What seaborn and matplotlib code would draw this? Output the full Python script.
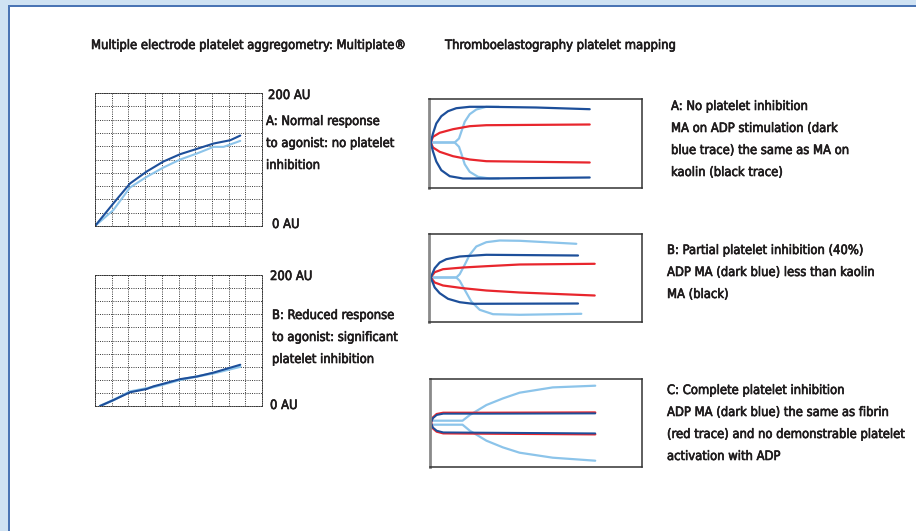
import numpy as np
import pandas as pd
import matplotlib
matplotlib.use("Agg")
import matplotlib.pyplot as plt
import matplotlib.patheffects as pe
import seaborn as sns
from matplotlib.patches import Rectangle

# --- Multiplate aggregometry traces (x in grid cells 0-10, y in AU) ---
agg_a_x = [0, 1.1, 2.1, 3.1, 4.1, 5.1, 6.1, 7.1, 8.1, 8.7]
agg_a_dark = [0, 34, 64, 82, 97, 108, 116, 124, 129, 136]
agg_a_light_x = [0, 1.1, 2.1, 3.1, 4.1, 5.1, 6.1, 7.1, 7.7, 8.7]
agg_a_light = [0, 24, 58, 74, 88, 100, 109, 119, 119, 128]

agg_b_x = [0.3, 1.1, 2.1, 3.1, 3.5, 4.1, 5.1, 6.1, 7.1, 7.9, 8.7]
agg_b_dark = [0, 9, 21, 26, 30, 34, 41, 45, 51, 57, 63]
agg_b_light = [0, 9, 22, 27, 29, 33, 40, 45, 50, 55, 60]

# --- TEG platelet mapping traces (x = time, y = amplitude) ---
# A: no inhibition
tegA_dark_up_x = [1.7, 4, 7.3, 12.3, 19, 27.3, 40.7, 57.3, 107, 160.7]
tegA_dark_up = [0, 9, 19, 26.3, 31.3, 34.3, 35.7, 35.7, 35, 33.3]
tegA_dark_lo_x = [1.7, 4, 7.3, 12.3, 20.7, 34, 57.3, 160.7]
tegA_dark_lo = [0, -9, -19, -27.7, -33.7, -36, -36, -35]
tegA_red_up_x = [1.7, 4, 10.7, 24, 40.7, 57.3, 160.7]
tegA_red_up = [0, 5.7, 9.7, 13.3, 16.3, 17.3, 18]
tegA_red_lo = [0, -5, -9.3, -13.7, -17, -18.7, -20]
tegA_light_up_x = [1.7, 25.7, 30, 32.3, 35.7, 40.7, 47.3, 57.3, 70]
tegA_light_up = [0, 0, 4, 10.7, 20.7, 28.3, 33, 35.7, 35.7]
tegA_light_lo_x = [1.7, 25.7, 30, 32.3, 35.7, 40.7, 49, 60.7, 70]
tegA_light_lo = [0, 0, -4.3, -11, -21.7, -29.3, -34.3, -36, -36]

# B: partial inhibition
tegB_dark_up_x = [1.7, 5.7, 10.7, 17.3, 30.7, 57.3, 149]
tegB_dark_up = [0, 9.3, 15, 18.3, 21, 22.7, 22]
tegB_dark_lo_x = [1.7, 5.7, 10.7, 19, 30.7, 44, 149]
tegB_dark_lo = [0, -10, -15.7, -21.3, -24.7, -26.3, -26]
tegB_red_x = [1.7, 5.7, 14, 34, 57.3, 90.7, 165.7]
tegB_red_up = [0, 5.3, 8.3, 10, 11.3, 13, 13.7]
tegB_red_lo = [0, -5, -8, -10.7, -13, -15, -18]
tegB_light_up_x = [1.7, 27.3, 30.7, 35.7, 40.7, 47.3, 57.3, 70.7, 90.7, 147.3]
tegB_light_up = [0, 0, 3.3, 12.7, 22.7, 31, 35.3, 37, 36.7, 33.7]
tegB_light_lo_x = [1.7, 27.3, 30.7, 35.7, 42.3, 50.7, 64, 90.7, 152.3]
tegB_light_lo = [0, 0, -3.3, -12.3, -24, -32.3, -36.7, -37.3, -36.3]

# C: complete inhibition
tegC_dark_x = [1, 2.7, 6.7, 13.3, 56.7, 166]
tegC_dark_up = [0, 4.3, 7.7, 9, 9, 9.3]
tegC_dark_lo = [0, -4.7, -8, -9.7, -10, -10.7]
tegC_red_up = [0, 5, 8.6, 9.9, 9.9, 10.2]
tegC_red_lo = [0, -5.4, -8.9, -10.6, -10.9, -11.6]
tegC_light_x = [3.3, 32.7, 40, 56.7, 73.3, 90, 123.3, 166]
tegC_light_up = [2, 2, 7.7, 17.7, 24.3, 30, 35.3, 37]
tegC_light_lo = [-2, -2, -8, -18, -24.7, -30, -35, -38]

DARK = "#1d4f9a"
LIGHT = "#8cc4ea"
RED = "#e8262d"
TXT = "#1e1b1c"

W, H = 916, 531
sns.set_theme(style="white")
plt.rcParams["font.family"] = ["DejaVu Sans"]

fig = plt.figure(figsize=(W / 100, H / 100), dpi=100)
fig.patch.set_facecolor("#cfe2f3")
fig.patches.append(Rectangle((9 / W, 0), 1, 1 - 6 / H, transform=fig.transFigure,
                             facecolor="white", edgecolor="none", zorder=-3))
fig.patches.append(Rectangle((8 / W, 0), 2 / W, 1 - 5 / H, transform=fig.transFigure,
                             facecolor="#4a74b4", edgecolor="none", zorder=-2))
fig.patches.append(Rectangle((8 / W, 1 - 7 / H), 1, 2 / H, transform=fig.transFigure,
                             facecolor="#4a74b4", edgecolor="none", zorder=-2))

heavy = [pe.withStroke(linewidth=0.45, foreground=TXT)]


def box(x, y, w, h):
    return [x / W, 1 - (y + h) / H, w / W, h / H]


def ftext(x, y, s, **kw):
    fig.text(x / W, 1 - y / H, s, color=TXT, fontsize=9.3, va="top", ha="left",
             linespacing=1.9, fontstretch="condensed", path_effects=heavy, **kw)


def line(ax, x, y, color, lw=1.6):
    sns.lineplot(x=x, y=y, ax=ax, color=color, lw=lw, sort=False,
                 estimator=None, legend=False)


# ---- Multiplate grids ----
def agg_axes(rect):
    ax = fig.add_axes(rect)
    ax.set_xlim(0, 10)
    ax.set_ylim(0, 200)
    ax.set_xticks(np.arange(0, 11, 1))
    ax.set_yticks(np.arange(0, 201, 20))
    ax.grid(True, color="#333333", linestyle=(0, (1, 1.3)), lw=0.7)
    ax.tick_params(length=0, labelbottom=False, labelleft=False)
    for s in ax.spines.values():
        s.set_linestyle((0, (1, 1.3)))
        s.set_color("#333333")
        s.set_linewidth(0.7)
    ax.set_facecolor("white")
    return ax


axA = agg_axes(box(95, 93, 167, 133))
line(axA, agg_a_light_x, agg_a_light, LIGHT, 1.5)
line(axA, agg_a_x, agg_a_dark, DARK, 1.5)

axB = agg_axes(box(95, 275, 167, 131))
line(axB, agg_b_x, agg_b_light, LIGHT, 1.8)
line(axB, agg_b_x, agg_b_dark, DARK, 1.5)
for ax in (axA, axB):
    ax.set_xlabel("")
    ax.set_ylabel("")

ftext(91, 39, "Multiple electrode platelet aggregometry: Multiplate\u00ae")
ftext(445, 39, "Thromboelastography platelet mapping")

ftext(268, 89, "200 AU")
ftext(266, 115, "A: Normal response\nto agonist: no platelet\ninhibition")
ftext(272, 218, "0 AU")
ftext(270, 270, "200 AU")
ftext(272, 309, "B: Reduced response\nto agonist: significant\nplatelet inhibition")
ftext(270, 399, "0 AU")


# ---- TEG boxes ----
def teg_axes(rect):
    ax = fig.add_axes(rect)
    ax.set_xlim(0, 213)
    ax.set_ylim(-44.5, 44.5)
    ax.set_xticks([])
    ax.set_yticks([])
    for s in ax.spines.values():
        s.set_color("#333333")
        s.set_linewidth(1.1)
    ax.spines["left"].set_color("#8a8a8a")
    ax.spines["left"].set_linewidth(2)
    ax.set_facecolor("white")
    return ax


tA = teg_axes(box(429, 99, 213, 89))
line(tA, tegA_light_up_x, tegA_light_up, LIGHT)
line(tA, tegA_light_lo_x, tegA_light_lo, LIGHT)
line(tA, tegA_red_up_x, tegA_red_up, RED)
line(tA, tegA_red_up_x, tegA_red_lo, RED)
line(tA, tegA_dark_up_x, tegA_dark_up, DARK)
line(tA, tegA_dark_lo_x, tegA_dark_lo, DARK)
tA.set_ylim(-45.5, 43.5)

tB = teg_axes(box(429, 234, 213, 88))
line(tB, tegB_light_up_x, tegB_light_up, LIGHT)
line(tB, tegB_light_lo_x, tegB_light_lo, LIGHT)
line(tB, tegB_red_x, tegB_red_up, RED)
line(tB, tegB_red_x, tegB_red_lo, RED)
line(tB, tegB_dark_up_x, tegB_dark_up, DARK)
line(tB, tegB_dark_lo_x, tegB_dark_lo, DARK)
tB.set_ylim(-44.5, 43.5)

tC = teg_axes(box(430, 379, 212, 88))
line(tC, tegC_light_x, tegC_light_up, LIGHT)
line(tC, tegC_light_x, tegC_light_lo, LIGHT)
line(tC, tegC_dark_x, tegC_red_up, RED, 1.7)
line(tC, tegC_dark_x, tegC_red_lo, RED, 1.7)
line(tC, tegC_dark_x, tegC_dark_up, DARK, 1.4)
line(tC, tegC_dark_x, tegC_dark_lo, DARK, 1.4)
tC.set_ylim(-44.3, 43.7)

for ax in (tA, tB, tC):
    ax.set_xlabel("")
    ax.set_ylabel("")

ftext(671, 100, "A: No platelet inhibition\nMA on ADP stimulation (dark\nblue trace) the same as MA on\nkaolin (black trace)")
ftext(667, 244, "B: Partial platelet inhibition (40%)\nADP MA (dark blue) less than kaolin\nMA (black)")
ftext(667, 384, "C: Complete platelet inhibition\nADP MA (dark blue) the same as fibrin\n(red trace) and no demonstrable platelet\nactivation with ADP")

fig.savefig("out.png", dpi=100, facecolor=fig.get_facecolor())
